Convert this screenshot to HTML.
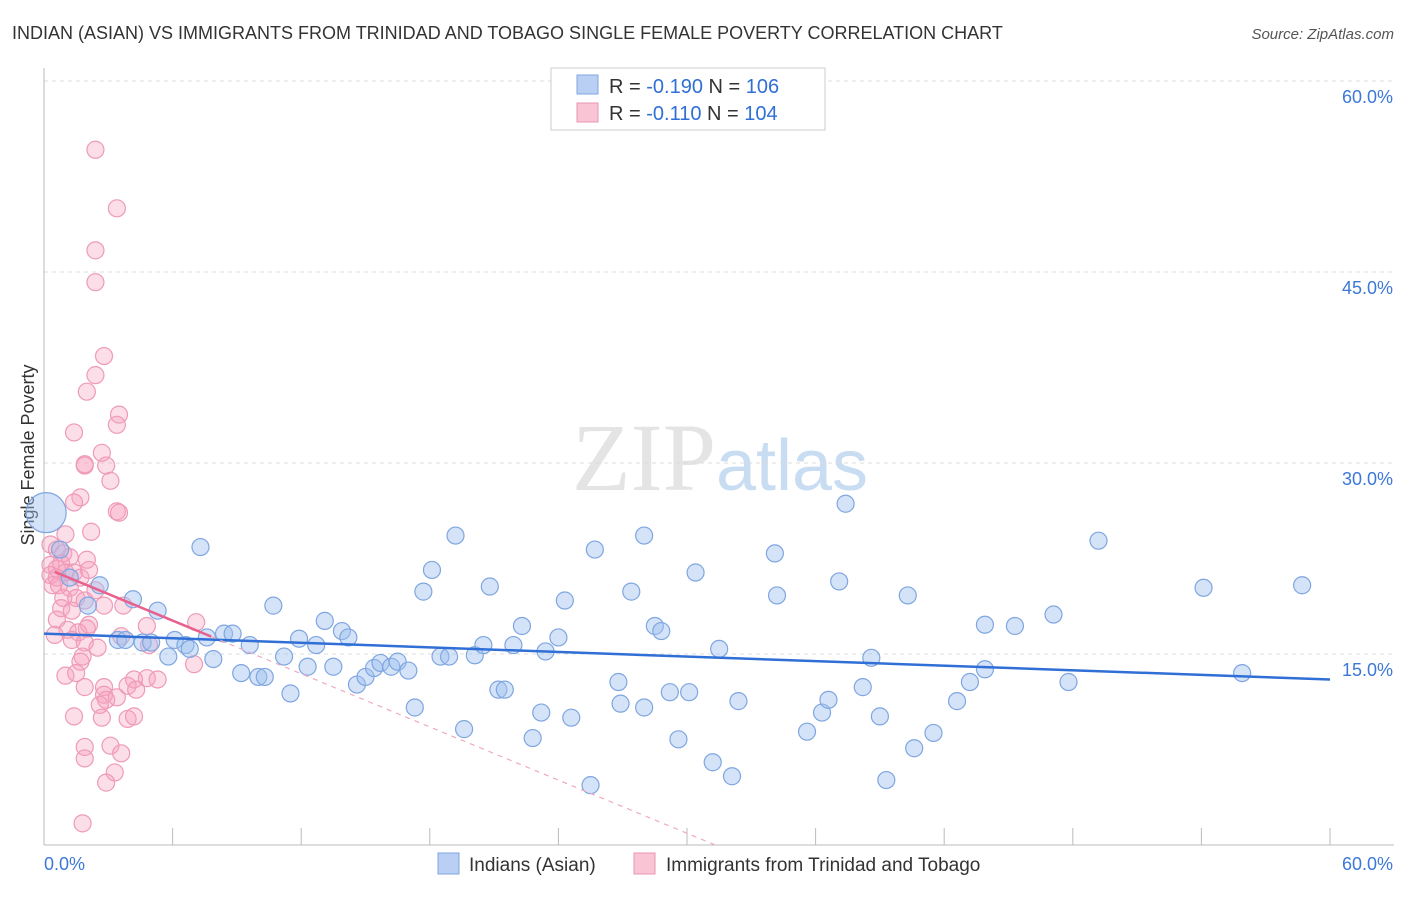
<!DOCTYPE html>
<html><head><meta charset="utf-8"><style>
body{margin:0;background:#fff;font-family:"Liberation Sans",sans-serif;}
</style></head><body>
<svg id="chart" width="1406" height="892" xmlns="http://www.w3.org/2000/svg" font-family="Liberation Sans, sans-serif">
<text x="12" y="39" font-size="18" fill="#333">INDIAN (ASIAN) VS IMMIGRANTS FROM TRINIDAD AND TOBAGO SINGLE FEMALE POVERTY CORRELATION CHART</text>
<text x="1394" y="39" font-size="15" fill="#555" text-anchor="end" font-style="italic">Source: ZipAtlas.com</text>
<text x="720" y="490" font-size="96" text-anchor="middle" fill="#e4e4e4" font-family="Liberation Serif, serif">ZIP<tspan fill="#c8dcf2" font-family="Liberation Sans, sans-serif" font-size="72">atlas</tspan></text>
<text transform="translate(34,455) rotate(-90)" font-size="18" fill="#333" text-anchor="middle">Single Female Poverty</text>
<g id="grid"></g><g id="axes"></g><g id="pts"></g><g id="trend"></g>
<g>
<rect x="551" y="68" width="274" height="62" fill="#fff" stroke="#ccc"/>
<rect x="577" y="75" width="21" height="19" fill="#b9d0f4" stroke="#7fa6e0"/>
<text x="609" y="93" font-size="20" fill="#333">R = <tspan fill="#2f6fd6">-0.190</tspan>   N = <tspan fill="#2f6fd6">106</tspan></text>
<rect x="577" y="103" width="21" height="19" fill="#f9c4d4" stroke="#eb94b2"/>
<text x="609" y="120" font-size="20" fill="#333">R =  <tspan fill="#2f6fd6">-0.110</tspan>   N = <tspan fill="#2f6fd6">104</tspan></text>
</g>
<g>
<rect x="438" y="853" width="21" height="21" fill="#b9d0f4" stroke="#7fa6e0"/>
<text x="469" y="871" font-size="19" fill="#333">Indians (Asian)</text>
<rect x="634" y="853" width="21" height="21" fill="#f9c4d4" stroke="#eb94b2"/>
<text x="666" y="871" font-size="19" fill="#333">Immigrants from Trinidad and Tobago</text>
</g>
</svg>
<script>
const yTicks=[15,30,45,60];
const yTickLabels=["15.0%","30.0%","45.0%","60.0%"];
const xTicks=[0,6,12,18,24,30,36,42,48,54,60];
const blueX=[0.1,0.75,1.2,2.6,2.05,4.15,5.3,3.45,3.8,4.6,5.0,5.8,6.1,6.6,6.8,7.3,7.6,7.9,8.4,8.8,9.2,9.6,10.0,10.3,10.7,11.2,11.5,11.9,12.3,12.7,13.1,13.5,13.9,14.2,14.6,15.0,15.4,15.7,16.2,16.5,17.0,17.3,17.7,18.1,18.5,18.9,19.2,19.6,20.1,20.5,20.8,21.2,21.5,21.9,22.3,22.8,23.2,23.4,24.0,24.3,24.6,25.5,25.7,26.8,26.9,27.4,28.0,28.0,28.5,28.8,29.2,29.6,30.1,30.4,31.2,31.5,32.1,32.4,34.1,34.2,35.6,36.3,36.6,37.1,37.4,38.2,38.6,39.0,39.3,40.3,40.6,41.5,42.6,43.2,43.9,43.9,45.3,47.1,47.8,49.2,54.1,55.9,58.7];
const blueY=[26.1,23.2,21.0,20.4,18.8,19.3,18.4,16.1,16.1,15.9,15.9,14.8,16.1,15.7,15.4,23.4,16.3,14.6,16.6,16.6,13.5,15.7,13.2,13.2,18.8,14.8,11.9,16.2,14.0,15.7,17.6,14.0,16.8,16.3,12.6,13.2,13.9,14.3,14.0,14.4,13.7,10.8,19.9,21.6,14.8,14.8,24.3,9.1,14.9,15.7,20.3,12.2,12.2,15.7,17.2,8.4,10.4,15.2,16.3,19.2,10.0,4.7,23.2,12.8,11.1,19.9,10.8,24.3,17.2,16.8,12.0,8.3,12.0,21.4,6.5,15.4,5.4,11.3,22.9,19.6,8.9,10.4,11.4,20.7,26.8,12.4,14.7,10.1,5.1,19.6,7.6,8.8,11.3,12.8,13.8,17.3,17.2,18.1,12.8,23.9,20.2,13.5,20.4];
const pinkX=[2.4,3.4,2.4,2.4,2.8,2.4,2.0,3.5,3.4,1.4,2.7,1.9,1.9,2.9,3.1,1.7,1.4,3.4,3.5,2.2,1.0,0.3,0.6,0.9,1.2,2.0,0.3,0.6,0.8,1.0,1.4,0.3,0.6,1.7,2.1,0.4,0.7,1.2,2.4,0.9,1.5,1.9,2.8,0.8,1.3,3.7,0.6,2.1,1.1,1.6,2.0,4.8,7.1,3.6,0.5,1.3,1.9,4.9,2.5,1.8,1.7,7.0,1.0,1.5,4.8,5.3,4.2,3.9,1.9,2.8,4.3,2.8,2.9,3.4,2.6,1.4,2.7,3.9,4.2,3.1,1.9,3.6,1.9,3.3,2.9,1.8];
const pinkY=[54.6,50.0,46.7,44.2,38.4,36.9,35.6,33.8,33.0,32.4,30.8,29.9,29.8,29.8,28.6,27.3,26.9,26.2,26.1,24.6,24.4,23.6,23.2,22.9,22.6,22.4,22.0,21.7,22.1,21.4,21.4,21.2,21.0,21.0,21.6,20.4,20.4,20.2,20.0,19.4,19.4,19.2,18.8,18.6,18.4,18.8,17.7,17.3,16.9,16.7,17.0,17.2,17.5,16.4,16.5,16.1,15.9,15.7,15.5,14.8,14.4,14.2,13.3,13.5,13.1,13.0,13.0,12.5,12.4,12.4,12.2,11.8,11.4,11.6,11.0,10.1,10.0,9.9,10.1,7.8,7.7,7.2,6.8,5.7,4.9,1.7];
const blueTrend=[16.6,13.0];
const pinkTrend=[21.8,-0.0696];
const NS="http://www.w3.org/2000/svg";
const X=v=>44+v*1286/60, Y=v=>845-v*764/60;
function mk(t,a,p){const e=document.createElementNS(NS,t);for(const k in a)e.setAttribute(k,a[k]);document.getElementById(p).appendChild(e);return e;}
yTicks.forEach((t,i)=>{
 const l=mk('line',{x1:44,x2:1394,y1:Y(t),y2:Y(t),stroke:'#ddd','stroke-dasharray':'4,4'},'grid');
 
 
 const tx=mk('text',{x:1393,y:Y(t)+22,'font-size':18,fill:'#3b78d8','text-anchor':'end'},'axes');
 tx.textContent=yTickLabels[i];
 
 
});
const ax=mk('line',{x1:44,x2:44,y1:68,y2:845,stroke:'#bbb'},'axes');


const bx=mk('line',{x1:44,x2:1394,y1:845,y2:845,stroke:'#bbb'},'axes');


xTicks.forEach(t=>{const l=mk('line',{x1:X(t),x2:X(t),y1:828,y2:845,stroke:'#bbb'},'axes');
 
 });
const x0=mk('text',{x:44,y:870,'font-size':18,fill:'#3b78d8'},'axes');x0.textContent='0.0%';


const x1=mk('text',{x:1393,y:870,'font-size':18,fill:'#3b78d8','text-anchor':'end'},'axes');x1.textContent='60.0%';


pinkX.forEach((v,i)=>{const c=mk('circle',{cx:X(v),cy:Y(pinkY[i]),r:8.5,fill:'rgba(245,160,190,0.35)',stroke:'#ee9ab8','stroke-width':1.2},'pts');
 
 });
blueX.forEach((v,i)=>{const c=mk('circle',{cx:X(v),cy:Y(blueY[i]),r:i==0?20:8.5,fill:'rgba(160,192,240,0.45)',stroke:'#7fa6e0','stroke-width':1.2},'pts');
 
 });
const bt=mk('line',{x1:X(0),y1:Y(blueTrend[0]),x2:X(60),y2:Y(blueTrend[1]),stroke:'#2f6fd6','stroke-width':2.5},'trend');


const pf=x=>pinkTrend[0]+pinkTrend[1]*x*10;
const xe=-pinkTrend[0]/(pinkTrend[1]*10);
const pt=mk('line',{x1:X(0.5),y1:Y(pf(0.5)),x2:X(7.8),y2:Y(pf(7.8)),stroke:'#e8608c','stroke-width':2.5},'trend');


const pd=mk('line',{x1:X(7.8),y1:Y(pf(7.8)),x2:X(xe),y2:Y(0),stroke:'#eeaac0','stroke-width':1.2,'stroke-dasharray':'5,5'},'trend');


</script>
</body></html>
